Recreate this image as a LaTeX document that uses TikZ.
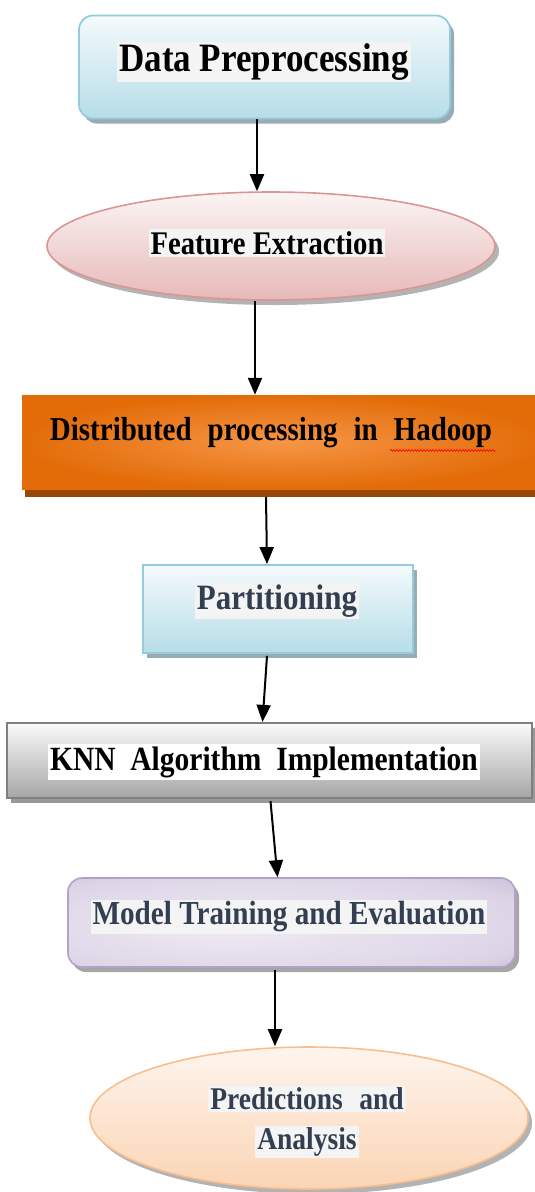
\documentclass[tikz,border=0pt]{standalone}
\usepackage{fontspec}
\setmainfont{Liberation Serif}
\usetikzlibrary{shapes.geometric,shadows,arrows.meta,decorations.pathmorphing}
\definecolor{blueTop}{HTML}{F4FAFC}
\definecolor{blueBot}{HTML}{B7DDE8}
\definecolor{blueLine}{HTML}{93CDDD}
\definecolor{blueShadow}{HTML}{8EA3AA}
\definecolor{pinkTop}{HTML}{FBF4F4}
\definecolor{pinkBot}{HTML}{E6B9B8}
\definecolor{pinkLine}{HTML}{D99694}
\definecolor{orangeIn}{HTML}{F79646}
\definecolor{orangeOut}{HTML}{E36C09}
\definecolor{orangeShadow}{HTML}{974806}
\definecolor{greyTop}{HTML}{FAFAFA}
\definecolor{greyBot}{HTML}{A6A6A6}
\definecolor{greyLine}{HTML}{7F7F7F}
\definecolor{purpleLight}{HTML}{EEEAF3}
\definecolor{purpleMid}{HTML}{DDD5E7}
\definecolor{purpleDark}{HTML}{B3A2C7}
\definecolor{peachTop}{HTML}{FEF5EE}
\definecolor{peachBot}{HTML}{FBD4B4}
\definecolor{peachLine}{HTML}{F9BE8E}
\definecolor{hlgray}{HTML}{F4F4F4}
\definecolor{txtdark}{HTML}{333F50}
\pgfdeclareradialshading{purpleglow}{\pgfpoint{-8bp}{-4bp}}{color(0bp)=(purpleLight); color(30bp)=(purpleMid); color(50bp)=(purpleDark)}
\newcommand{\tallbox}[1]{\scalebox{1}[1.15]{#1}}

\begin{document}
\begin{tikzpicture}[x=1pt,y=1pt]
\tikzstyle{every node}+=[inner sep=0pt]
\tikzstyle{arr}=[black,line width=2pt,-{Triangle[width=14pt,length=17pt]}]
\tikzstyle{lbl}=[fill=hlgray,inner sep=2pt]
\tikzstyle{blueblock}=[draw=blueLine,line width=1.8pt,top color=blueTop,bottom color=blueBot,
  drop shadow={shadow xshift=4pt,shadow yshift=-5pt,fill=blueShadow,opacity=0.9}]
\useasboundingbox (0,0) rectangle (535,-1192);
\node [blueblock,rounded corners=14pt,minimum width=371pt,minimum height=103pt] (prep) at (264.5,-67) {};
\node [lbl,font=\bfseries\fontsize{35}{40}\selectfont] (preptxt) at (264,-62) {\tallbox{Data Preprocessing}};
\node [ellipse,draw=pinkLine,line width=1.6pt,top color=pinkTop,bottom color=pinkBot,minimum width=448pt,minimum height=108pt,
  drop shadow={shadow xshift=4pt,shadow yshift=-5pt,fill=gray,opacity=0.6}] (feat) at (271,-246) {};
\node [lbl,font=\bfseries\fontsize{28.7}{33}\selectfont] (feattxt) at (267,-243) {\tallbox{Feature Extraction}};
\node [rectangle,shading=radial,inner color=orangeIn,outer color=orangeOut,minimum width=523pt,minimum height=94pt,
  drop shadow={shadow xshift=3pt,shadow yshift=-8pt,fill=orangeShadow,opacity=1}] (hadoop) at (283.5,-442) {};
\node [font={\bfseries\fontsize{29}{34}\selectfont\spaceskip=0.55em\relax}] (hadooptxt) at (271,-433) {\tallbox{Distributed processing in Hadoop}};
\draw [red,line width=0.6pt,decorate,decoration={zigzag,amplitude=1pt,segment length=3pt}]
  ([xshift=-102pt,yshift=-2pt]hadooptxt.south east) -- ([xshift=3pt,yshift=-2pt]hadooptxt.south east);
\node [blueblock,minimum width=270pt,minimum height=88pt] (part) at (278,-609) {};
\node [lbl,text=txtdark,font=\bfseries\fontsize{31}{36}\selectfont] (parttxt) at (277,-601) {\tallbox{Partitioning}};
\node [rectangle,draw=greyLine,line width=2.2pt,top color=greyTop,bottom color=greyBot,minimum width=525pt,minimum height=75pt,
  drop shadow={shadow xshift=4pt,shadow yshift=-5pt,fill=gray,opacity=0.8}] (knn) at (269.5,-760.5) {};
\node [lbl,fill=white,font={\bfseries\fontsize{29.5}{34}\selectfont\spaceskip=0.5em\relax}] (knntxt) at (264,-762) {\tallbox{KNN Algorithm Implementation}};
\node [rectangle,rounded corners=14pt,draw=purpleDark,line width=1.6pt,shading=purpleglow,
  minimum width=447pt,minimum height=89pt,
  drop shadow={shadow xshift=4pt,shadow yshift=-5pt,fill=gray,opacity=0.7}] (model) at (291.5,-922.5) {};
\node [lbl,text=txtdark,font=\bfseries\fontsize{29.2}{34}\selectfont] (modeltxt) at (289,-917) {\tallbox{Model Training and Evaluation}};
\node [ellipse,draw=peachLine,line width=1.6pt,top color=peachTop,bottom color=peachBot,minimum width=438pt,minimum height=142pt,
  drop shadow={shadow xshift=4pt,shadow yshift=-5pt,fill=gray,opacity=0.6}] (pred) at (309,-1118) {};
\node [lbl,text=txtdark,font={\bfseries\fontsize{27.5}{33}\selectfont\spaceskip=0.6em\relax}] (predtxt) at (307,-1099) {\tallbox{Predictions and}};
\node [lbl,text=txtdark,font=\bfseries\fontsize{27.5}{33}\selectfont] (predtxtb) at (307,-1142) {\tallbox{Analysis}};
\draw [arr] ([xshift=-7.5pt]prep.south) -- ([xshift=-14pt]feat.north);
\draw [arr] ([xshift=-16pt]feat.south) -- ([xshift=-28.5pt]hadoop.north);
\draw [arr] ([xshift=-17.5pt,yshift=-8pt]hadoop.south) -- ([xshift=-11pt]part.north);
\draw [arr] ([xshift=-11pt,yshift=-2pt]part.south) -- ([xshift=-7pt]knn.north);
\draw [arr] ([xshift=1pt,yshift=-2pt]knn.south) -- ([xshift=-14pt]model.north);
\draw [arr] ([xshift=-16.5pt,yshift=-2pt]model.south) -- ([xshift=-34pt]pred.north);
\end{tikzpicture}
\end{document}
